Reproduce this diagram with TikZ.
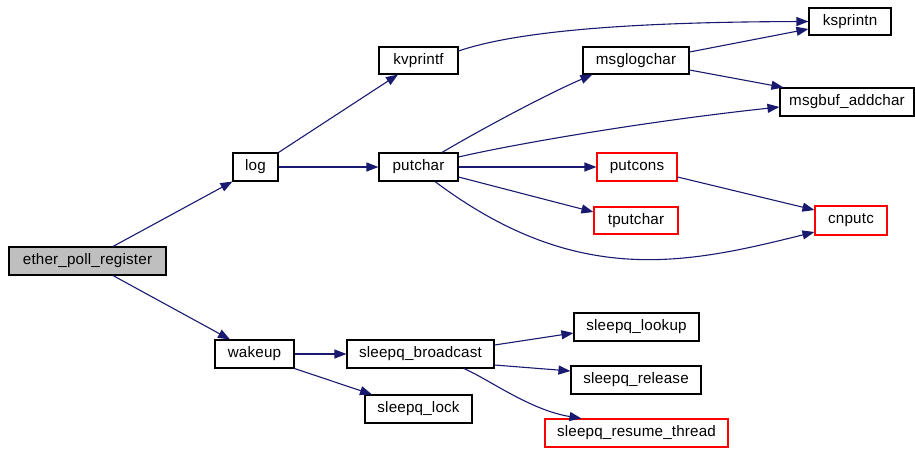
\documentclass[tikz,border=0pt]{standalone}
\usepackage{fontspec}
\setmainfont[LetterSpace=1.2]{Liberation Sans}
\usetikzlibrary{arrows.meta}
\definecolor{edgeblue}{HTML}{191970}
\definecolor{rootgray}{HTML}{BFBFBF}
\begin{document}
\begin{tikzpicture}[x=1pt,y=-1pt,
  fn/.style={draw=black, line width=1.1pt, fill=white, inner sep=0pt,
    font=\fontsize{15.2pt}{17pt}\selectfont, text=black, minimum height=28pt},
  rootfn/.style={fn, fill=rootgray},
  extfn/.style={fn, draw=red},
  call/.style={draw=edgeblue, line width=1.1pt,
    -{Triangle[length=12pt,width=9pt]}}]
\useasboundingbox (0,0) rectangle (915,448);

% caller and first level
\node[rootfn, minimum width=157pt] (epr) at (87.5,261) {ether\_poll\_register};
\node[fn, minimum width=45pt] (log) at (255.5,167) {log};
\node[fn, minimum width=79pt] (wakeup) at (254.5,354) {wakeup};

% second level
\node[fn, minimum width=79pt, minimum height=27pt] (kvprintf) at (418.5,60.5) {kvprintf};
\node[fn, minimum width=79pt] (putchar) at (418.5,167) {putchar};
\node[fn, minimum width=147pt] (bcast) at (420.5,354) {sleepq\_broadcast};
\node[fn, minimum width=107pt] (lock) at (418.5,409) {sleepq\_lock};

% third level
\node[fn, minimum width=106pt, minimum height=27pt] (msglog) at (636,60.5) {msglogchar};
\node[extfn, minimum width=80pt] (putcons) at (637,167) {putcons};
\node[extfn, minimum width=84pt, minimum height=27pt] (tputchar) at (636,220.5) {tputchar};
\node[fn, minimum width=125pt] (lookup) at (636.5,327) {sleepq\_lookup};
\node[fn, minimum width=130pt] (release) at (636,380) {sleepq\_release};
\node[extfn, minimum width=183pt] (resume) at (636.5,433) {sleepq\_resume\_thread};

% fourth level
\node[fn, minimum width=82pt, minimum height=27pt] (ksprintn) at (850,21.5) {ksprintn};
\node[fn, minimum width=134pt] (msgbuf) at (847,102) {msgbuf\_addchar};
\node[extfn, minimum width=72pt, minimum height=29pt] (cnputc) at (851,220.5) {cnputc};

% calls
\draw[call] ([xshift=25.5pt]epr.north) -- (log.south west);
\draw[call] ([xshift=25.5pt]epr.south) -- ([xshift=-24.5pt]wakeup.north);
\draw[call] (log.north east) -- ([xshift=-20.5pt]kvprintf.south);
\draw[call] (log.east) -- (putchar.west);
\draw[call] ([yshift=9.5pt]kvprintf.east) .. controls (520,30) and (640,22) .. (ksprintn.west);
\draw[call] ([yshift=8.5pt]msglog.east) -- ([yshift=-7.5pt]ksprintn.west);
\draw[call] ([yshift=-9.5pt]msglog.east) -- ([xshift=4pt]msgbuf.north west);
\draw[call] ([xshift=23.5pt]putchar.north) .. controls (480,130) and (545,95) .. ([xshift=10pt]msglog.south west);
\draw[call] ([yshift=10pt]putchar.east) .. controls (510,145) and (640,122) .. ([yshift=-5pt]msgbuf.west);
\draw[call] (putchar.east) -- (putcons.west);
\draw[call] ([yshift=-10pt]putchar.east) -- ([yshift=8.5pt]tputchar.west);
\draw[call] ([xshift=16.5pt]putchar.south) .. controls (577,288) and (686,264) .. ([yshift=-11.5pt]cnputc.west);
\draw[call] ([yshift=-10pt]putcons.east) -- ([yshift=10.5pt]cnputc.west);
\draw[call] (wakeup.east) -- (bcast.west);
\draw[call] (wakeup.south east) -- ([xshift=-46.5pt]lock.north);
\draw[call] ([yshift=9pt]bcast.east) -- ([yshift=-6pt]lookup.west);
\draw[call] ([yshift=-11pt]bcast.east) -- ([yshift=9pt]release.west);
\draw[call] ([xshift=43.5pt]bcast.south) .. controls (490,380) and (530,410) .. ([xshift=37pt]resume.north west);
\end{tikzpicture}
\end{document}
